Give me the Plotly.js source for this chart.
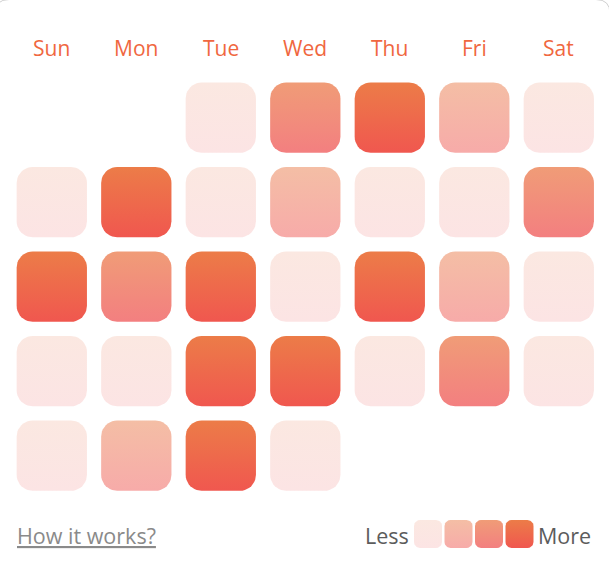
<!DOCTYPE html>
<html>
<head>
<meta charset="utf-8">
<script src="https://cdn.plot.ly/plotly-3.0.1.min.js"></script>
<style>
  html, body { margin: 0; padding: 0; background: #ffffff; }
  #chart { width: 609px; height: 573px; }
</style>
</head>
<body>
<div id="chart"></div>
<script>
// ---- data ----
const days = ['Sun', 'Mon', 'Tue', 'Wed', 'Thu', 'Fri', 'Sat'];
const firstWeekday = 2; // month starts on a Tuesday
const levels = [
  0, 2, 3, 1, 0,
  0, 3, 0, 1, 0, 0, 2,
  3, 2, 3, 0, 3, 1, 0,
  0, 0, 3, 3, 0, 2, 0,
  0, 1, 3, 0
];
const levelTop    = ['#FBE8E1', '#F4BEA5', '#F09C77', '#EC7C48'];
const levelBottom = ['#FCE4E4', '#F7ABA9', '#F37F80', '#F0574F'];
const legendLevels = [0, 1, 2, 3];
const legendLess = 'Less';
const legendMore = 'More';
const linkText = 'How it works?';

// ---- geometry (in axis units; 1 unit = one grid step) ----
const PX = 84.5;               // pixels per unit
const cellSize = 70.3 / PX;
const cellRadius = 16 / PX;
const legSize = 28 / PX;
const legRadius = 6 / PX;

function roundedRect(cx, cy, size, r) {
  const h = size / 2;
  const xs = [], ys = [];
  const corners = [
    [cx + h - r, cy - h + r, -Math.PI / 2, 0],
    [cx + h - r, cy + h - r, 0, Math.PI / 2],
    [cx - h + r, cy + h - r, Math.PI / 2, Math.PI],
    [cx - h + r, cy - h + r, Math.PI, 1.5 * Math.PI]
  ];
  const n = 10;
  corners.forEach(([ox, oy, a0, a1]) => {
    for (let i = 0; i <= n; i++) {
      const a = a0 + (a1 - a0) * i / n;
      xs.push(ox + r * Math.cos(a));
      ys.push(oy + r * Math.sin(a));
    }
  });
  xs.push(xs[0]); ys.push(ys[0]);
  return {xs, ys};
}

function cellTrace(cx, cy, size, r, lvl) {
  const p = roundedRect(cx, cy, size, r);
  return {
    type: 'scatter', mode: 'lines', x: p.xs, y: p.ys,
    fill: 'toself', line: {width: 0, color: 'rgba(0,0,0,0)'},
    fillcolor: levelTop[lvl],
    fillgradient: {
      type: 'vertical', start: cy - size / 2, stop: cy + size / 2,
      colorscale: [[0, levelTop[lvl]], [1, levelBottom[lvl]]]
    },
    hoverinfo: 'skip', showlegend: false
  };
}

const traces = [];
levels.forEach((lvl, i) => {
  const pos = i + firstWeekday;
  const col = pos % 7;
  const row = Math.floor(pos / 7);
  traces.push(cellTrace(col, row, cellSize, cellRadius, lvl));
});

const legX0 = (428 - 51.8) / PX, legStep = 30.5 / PX, legY = (534 - 117.7) / PX;
legendLevels.forEach((lvl, i) => {
  traces.push(cellTrace(legX0 + i * legStep, legY, legSize, legRadius, lvl));
});

const annotations = [];
days.forEach((d, i) => {
  annotations.push({
    x: i, y: -0.83, xref: 'x', yref: 'y', text: d, showarrow: false,
    xanchor: 'center', yanchor: 'middle',
    font: {family: 'Open Sans, sans-serif', size: 21, color: '#F0673F'}
  });
});
const textY = (535 - 117.7) / PX;
annotations.push({
  x: (410 - 51.8) / PX, y: textY, xref: 'x', yref: 'y', text: legendLess,
  showarrow: false, xanchor: 'right', yanchor: 'middle', borderpad: 0,
  font: {family: 'Open Sans, sans-serif', size: 21.5, color: '#5C5C5C'}
});
annotations.push({
  x: (537 - 51.8) / PX, y: textY, xref: 'x', yref: 'y', text: legendMore,
  showarrow: false, xanchor: 'left', yanchor: 'middle', borderpad: 0,
  font: {family: 'Open Sans, sans-serif', size: 21.5, color: '#5C5C5C'}
});
annotations.push({
  x: (16 - 51.8) / PX, y: textY, xref: 'x', yref: 'y',
  text: '<span style="text-decoration:underline">' + linkText + '</span>',
  showarrow: false, xanchor: 'left', yanchor: 'middle', borderpad: 0,
  font: {family: 'Open Sans, sans-serif', size: 21.5, color: '#8A8A8A'}
});

// card outline (decorative)
const W = 609, H = 573;
const px = v => (v / W).toFixed(5), py = v => (1 - v / H).toFixed(5);
const cardPath = 'M ' + px(-5) + ',' + py(80) + ' L ' + px(-5) + ',' + py(13.5) +
  ' Q ' + px(-5) + ',' + py(-0.5) + ' ' + px(9) + ',' + py(-0.5) +
  ' L ' + px(596) + ',' + py(-0.5) +
  ' Q ' + px(610) + ',' + py(-0.5) + ' ' + px(610) + ',' + py(13.5) +
  ' L ' + px(610) + ',' + py(80);

const layout = {
  width: W, height: H,
  margin: {l: 0, r: 0, t: 0, b: 0, pad: 0},
  paper_bgcolor: '#ffffff', plot_bgcolor: '#ffffff',
  xaxis: {range: [-51.8 / PX, (W - 51.8) / PX], visible: false, fixedrange: true},
  yaxis: {range: [(H - 117.7) / PX, -117.7 / PX], visible: false, fixedrange: true},
  annotations: annotations,
  shapes: [{
    type: 'path', xref: 'paper', yref: 'paper', path: cardPath,
    line: {color: '#cfcfcf', width: 1}, fillcolor: 'rgba(0,0,0,0)'
  }],
  showlegend: false
};

Plotly.newPlot('chart', traces, layout, {displayModeBar: false, staticPlot: true});
</script>
</body>
</html>
